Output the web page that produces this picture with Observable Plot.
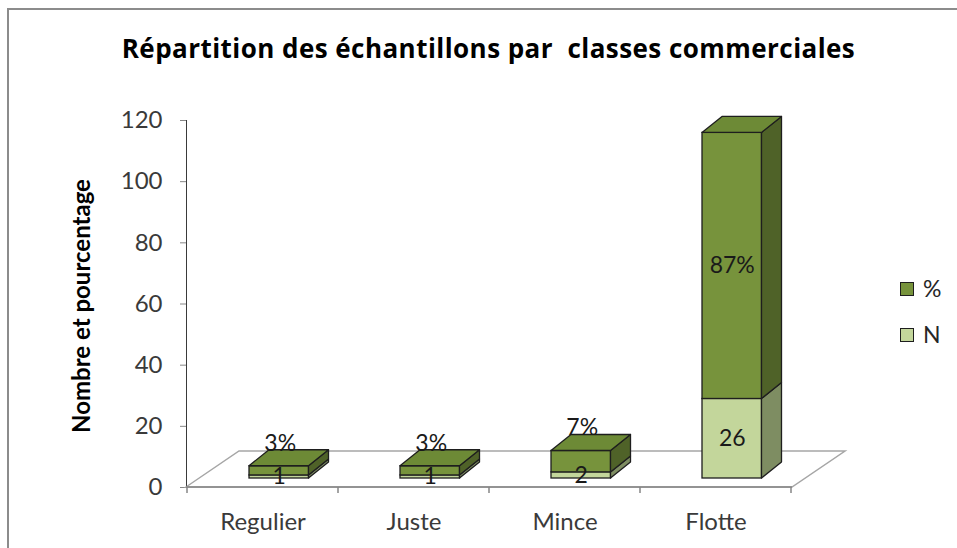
<!DOCTYPE html>
<html><head><meta charset="utf-8">
<script src="https://cdn.jsdelivr.net/npm/d3@7"></script>
<script src="https://cdn.jsdelivr.net/npm/@observablehq/plot@0.6"></script>
<style>
body{margin:0;background:#fff;}
#wrap{position:relative;width:957px;height:548px;overflow:hidden;font-family:Lato,sans-serif;background:#fff;}
#frame{position:absolute;left:7px;top:8px;width:1200px;height:1200px;border-left:2px solid #8c8c8c;border-top:2px solid #8c8c8c;}
#chart{position:absolute;left:0;top:0;}
#title{position:absolute;left:0;width:977px;top:33px;text-align:center;font-family:"Open Sans",sans-serif;font-weight:bold;font-size:26px;letter-spacing:0.45px;line-height:30px;white-space:pre;color:#000;}
.lg-box{position:absolute;left:900px;width:12px;height:12px;border:1.5px solid #1e1e1e;}
.lg-txt{position:absolute;left:923px;font-size:23px;line-height:1.2;color:#262626;}
</style>
</head><body>
<div id="wrap">
  <div id="frame"></div>
  <div id="chart"></div>
  <div id="title">Répartition des échantillons par  classes commerciales</div>
  <div id="legend"></div>
</div>
<script>
// ---- data ----
const categories = ["Regulier", "Juste", "Mince", "Flotte"];
const nValues = [1, 1, 2, 26];
const pctValues = [3, 3, 7, 87];
const seriesNames = ["N", "%"];
const yTicks = [0, 20, 40, 60, 80, 100, 120];
const yLabel = "Nombre et pourcentage";

// ---- styling constants ----
const colors = {
  "%": {front: "#77933C", side: "#4F6228", top: "#6D8A36"},
  "N": {front: "#C3D69B", side: "#7E8D62", top: "#AFC289"}
};
const EDGE = "#1e1e1e";
const INSET_L = 62, INSET_R = 29.5;   // bar position inside band
const BASE_DY = -9;                    // bar front plane shift
const DEPTH_DX = 20, DEPTH_DY = -16;   // bar depth
const FLOOR_DX = 53, FLOOR_DY = -36;   // floor depth

// stacked table built from arrays
const rows = categories.flatMap((c, i) => {
  const vals = [nValues[i], pctValues[i]];
  let acc = 0;
  return seriesNames.map((s, j) => {
    const y1 = acc; acc += vals[j];
    return {category: c, series: s, value: vals[j], y1, y2: acc,
            label: s === "%" ? vals[j] + "%" : String(vals[j])};
  });
});

function floorMark(index, scales) {
  const {x, y} = scales;
  const [x0, x1] = x.range();
  const y0 = y(0);
  const g = d3.create("svg:g").attr("aria-label", "floor");
  const back = [[x0, y0], [x0 + FLOOR_DX, y0 + FLOOR_DY], [x1 + FLOOR_DX, y0 + FLOOR_DY], [x1, y0]];
  g.append("path").attr("d", d3.line()(back) + "Z").attr("fill", "#fff")
    .attr("stroke", "#a6a6a6").attr("stroke-width", 1.5);
  g.append("path").attr("d", d3.line()([[x0, y0], [x1, y0]]))
    .attr("stroke", "#868686").attr("stroke-width", 1.5);
  const bw = x.bandwidth();
  const edges = categories.map(c => x(c)).concat([x(categories[categories.length - 1]) + bw]);
  for (const e of edges) {
    g.append("path").attr("d", `M${e},${y0}v6`).attr("stroke", "#868686").attr("stroke-width", 1.5);
  }
  return g.node();
}

function depthMark(index, scales) {
  const {x, y} = scales;
  const bw = x.bandwidth();
  const g = d3.create("svg:g").attr("aria-label", "bar depth");
  const poly = (pts, fill) => g.append("path").attr("d", d3.line()(pts) + "Z")
    .attr("fill", fill).attr("stroke", EDGE).attr("stroke-width", 1.3).attr("stroke-linejoin", "round");
  categories.forEach((c) => {
    const xl = x(c) + INSET_L, xr = x(c) + bw - INSET_R;
    const segs = rows.filter(r => r.category === c);
    segs.forEach((s, j) => {
      const yb = y(s.y1) + BASE_DY, yt = y(s.y2) + BASE_DY;
      poly([[xr, yb], [xr + DEPTH_DX, yb + DEPTH_DY], [xr + DEPTH_DX, yt + DEPTH_DY], [xr, yt]], colors[s.series].side);
      if (j === segs.length - 1) {
        poly([[xl, yt], [xl + DEPTH_DX, yt + DEPTH_DY], [xr + DEPTH_DX, yt + DEPTH_DY], [xr, yt]], colors[s.series].top);
      }
    });
  });
  return g.node();
}

const labelDx = INSET_L + (151.5 - INSET_L - INSET_R) / 2 - 151.5 / 2;
const isSmall = d => d.series === "%" && d.value < 10;

const plot = Plot.plot({
  width: 957,
  height: 548,
  marginLeft: 186,
  marginRight: 165,
  marginTop: 120,
  marginBottom: 61,
  style: {fontFamily: "Lato, sans-serif", fontSize: "24px", color: "#3a3a3a", background: "transparent", overflow: "visible"},
  x: {domain: categories, padding: 0, tickSize: 0, tickPadding: 25, label: null},
  y: {domain: [0, 120], ticks: yTicks, tickSize: 6, tickPadding: 18, line: true, label: null},
  color: {domain: ["%", "N"], range: [colors["%"].front, colors["N"].front]},
  marks: [
    floorMark,
    Plot.barY(rows, {x: "category", y1: "y1", y2: "y2", fill: "series",
      insetLeft: INSET_L, insetRight: INSET_R, dy: BASE_DY,
      stroke: EDGE, strokeWidth: 1.3}),
    depthMark,
    Plot.text(rows.filter(d => !isSmall(d)), {x: "category", y: d => (d.y1 + d.y2) / 2, text: "label",
      dx: labelDx, dy: BASE_DY, fill: "#1a1a1a", fontSize: 23}),
    Plot.text(rows.filter(isSmall), {x: "category", y: "y2", text: "label",
      dx: labelDx + 1, dy: BASE_DY - 23, fill: "#1a1a1a", fontSize: 23}),
    Plot.text([yLabel], {frameAnchor: "left", text: d => d, rotate: -90, dx: -104, dy: 2,
      textAnchor: "middle", fontWeight: "bold", fontSize: 24, fill: "#000"})
  ]
});
document.getElementById("chart").appendChild(plot);

// style axis ticks gray
plot.querySelectorAll('[aria-label="y-axis tick"], [aria-label="y-axis line"]').forEach(el => {
  el.style.color = "#868686";
});

// legend
const legend = document.getElementById("legend");
const legendItems = ["%", "N"];
const legendCenters = [289, 335];
legendItems.forEach((s, i) => {
  const b = document.createElement("div");
  b.className = "lg-box";
  b.style.top = (legendCenters[i] - 7.5) + "px";
  b.style.background = colors[s].front;
  legend.appendChild(b);
  const t = document.createElement("div");
  t.className = "lg-txt";
  t.style.top = (legendCenters[i] - 14) + "px";
  t.textContent = s;
  legend.appendChild(t);
});
</script>
</body></html>
